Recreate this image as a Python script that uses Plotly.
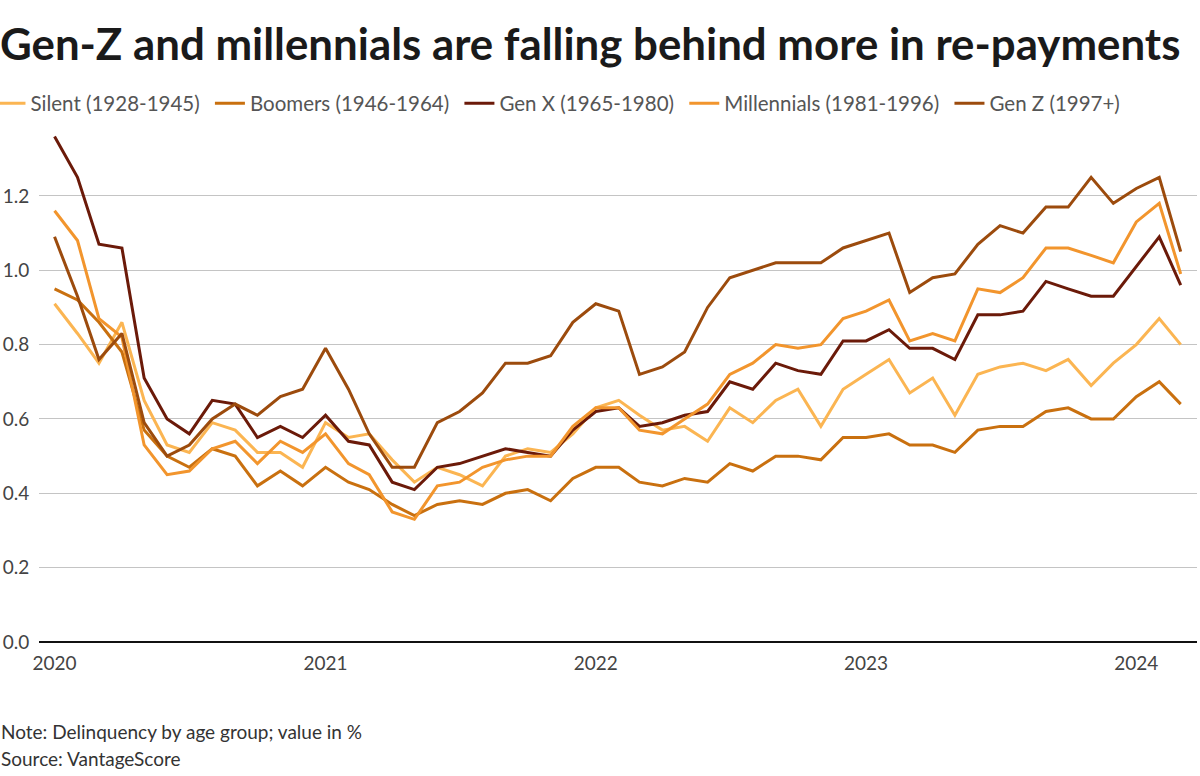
import pandas as pd
import plotly.graph_objects as go

months = pd.date_range("2020-01-01", periods=51, freq="MS")

silent = [0.91, 0.83, 0.75, 0.86, 0.65, 0.53, 0.51, 0.59, 0.57, 0.51, 0.51, 0.47,
          0.59, 0.55, 0.56, 0.49, 0.43, 0.47, 0.45, 0.42, 0.50, 0.52, 0.51, 0.56,
          0.63, 0.65, 0.61, 0.57, 0.58, 0.54, 0.63, 0.59, 0.65, 0.68, 0.58, 0.68,
          0.72, 0.76, 0.67, 0.71, 0.61, 0.72, 0.74, 0.75, 0.73, 0.76, 0.69, 0.75,
          0.80, 0.87, 0.80]
boomers = [0.95, 0.92, 0.86, 0.78, 0.57, 0.50, 0.47, 0.52, 0.50, 0.42, 0.46, 0.42,
           0.47, 0.43, 0.41, 0.37, 0.34, 0.37, 0.38, 0.37, 0.40, 0.41, 0.38, 0.44,
           0.47, 0.47, 0.43, 0.42, 0.44, 0.43, 0.48, 0.46, 0.50, 0.50, 0.49, 0.55,
           0.55, 0.56, 0.53, 0.53, 0.51, 0.57, 0.58, 0.58, 0.62, 0.63, 0.60, 0.60,
           0.66, 0.70, 0.64]
gen_x = [1.36, 1.25, 1.07, 1.06, 0.71, 0.60, 0.56, 0.65, 0.64, 0.55, 0.58, 0.55,
         0.61, 0.54, 0.53, 0.43, 0.41, 0.47, 0.48, 0.50, 0.52, 0.51, 0.50, 0.57,
         0.62, 0.63, 0.58, 0.59, 0.61, 0.62, 0.70, 0.68, 0.75, 0.73, 0.72, 0.81,
         0.81, 0.84, 0.79, 0.79, 0.76, 0.88, 0.88, 0.89, 0.97, 0.95, 0.93, 0.93,
         1.01, 1.09, 0.96]
millennials = [1.16, 1.08, 0.87, 0.82, 0.53, 0.45, 0.46, 0.52, 0.54, 0.48, 0.54, 0.51,
               0.56, 0.48, 0.45, 0.35, 0.33, 0.42, 0.43, 0.47, 0.49, 0.50, 0.50, 0.58,
               0.63, 0.63, 0.57, 0.56, 0.60, 0.64, 0.72, 0.75, 0.80, 0.79, 0.80, 0.87,
               0.89, 0.92, 0.81, 0.83, 0.81, 0.95, 0.94, 0.98, 1.06, 1.06, 1.04, 1.02,
               1.13, 1.18, 0.99]
gen_z = [1.09, 0.93, 0.76, 0.83, 0.59, 0.50, 0.53, 0.60, 0.64, 0.61, 0.66, 0.68,
         0.79, 0.68, 0.56, 0.47, 0.47, 0.59, 0.62, 0.67, 0.75, 0.75, 0.77, 0.86,
         0.91, 0.89, 0.72, 0.74, 0.78, 0.90, 0.98, 1.00, 1.02, 1.02, 1.02, 1.06,
         1.08, 1.10, 0.94, 0.98, 0.99, 1.07, 1.12, 1.10, 1.17, 1.17, 1.25, 1.18,
         1.22, 1.25, 1.05]

series_names = ["Silent (1928-1945)", "Boomers (1946-1964)", "Gen X (1965-1980)",
                "Millennials (1981-1996)", "Gen Z (1997+)"]
series_values = [silent, boomers, gen_x, millennials, gen_z]
series_colors = ["#fbb552", "#c9700f", "#6b1a09", "#f2952d", "#9c4b0d"]

y_ticks = [0.0, 0.2, 0.4, 0.6, 0.8, 1.0, 1.2]
x_ticks = ["2020-01-01", "2021-01-01", "2022-01-01", "2023-01-01", "2024-01-01"]
x_tick_labels = ["2020", "2021", "2022", "2023", "2024"]

FONT = "Lato"

fig = go.Figure()
n = len(series_names)
for i, (name, vals, col) in enumerate(zip(series_names, series_values, series_colors)):
    label = name + ("\u00a0" if i < n - 1 else "")
    fig.add_trace(go.Scatter(x=months, y=vals, name=label, mode="lines",
                             line=dict(color=col, width=3)))

fig.update_layout(
    width=1200, height=776,
    paper_bgcolor="white", plot_bgcolor="white",
    margin=dict(l=39, r=3, t=129, b=134, autoexpand=False),
    font=dict(family=FONT, color="#444444"),
    title=dict(text="<b>Gen-Z and millennials are falling behind more in re-payments</b>",
               x=0, xref="container", xanchor="left", y=0.942, yref="container",
               yanchor="middle",
               font=dict(family=FONT, size=43.8, color="#1a1a1a"),
               pad=dict(l=0, t=0, b=0, r=0)),
    showlegend=True,
    legend=dict(orientation="h", x=-0.0419, xanchor="left", y=1.05, yanchor="middle",
                font=dict(family=FONT, size=20.5, color="#555555"),
                itemwidth=30, tracegroupgap=0, bgcolor="rgba(0,0,0,0)"),
    xaxis=dict(range=["2019-12-11", "2024-03-23"], tickvals=x_ticks, ticktext=x_tick_labels,
               showgrid=False, showline=False, zeroline=False, automargin=False,
               ticks="outside", ticklen=4, tickcolor="rgba(0,0,0,0)",
               tickfont=dict(family=FONT, size=19, color="#444444")),
    yaxis=dict(range=[0, 1.38], tickvals=y_ticks, ticktext=[f"{v:.1f}" for v in y_ticks],
               showgrid=True, gridcolor="#c4c4c4", gridwidth=1, automargin=False,
               zeroline=True, zerolinecolor="#111111", zerolinewidth=2,
               showline=False, ticks="outside", ticklen=5, tickcolor="rgba(0,0,0,0)",
               tickfont=dict(family=FONT, size=19, color="#444444")),
)

fig.add_annotation(text="Note: Delinquency by age group; value in %", xref="paper", yref="paper",
                   x=-0.0345, y=(776 - 731 - 134) / 513.0, xanchor="left", yanchor="middle",
                   showarrow=False, font=dict(family=FONT, size=19, color="#333333"))
fig.add_annotation(text="Source: VantageScore", xref="paper", yref="paper",
                   x=-0.0345, y=(776 - 758 - 134) / 513.0, xanchor="left", yanchor="middle",
                   showarrow=False, font=dict(family=FONT, size=19, color="#333333"))

fig.write_html("out.html", config={"displayModeBar": False},
               post_script="document.body.style.margin='0px';")
